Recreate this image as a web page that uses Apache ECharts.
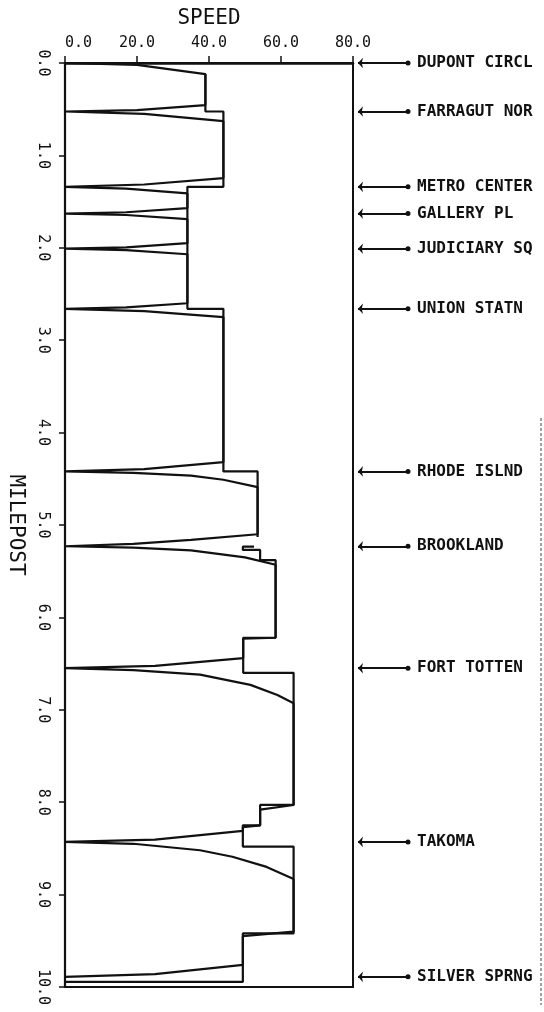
<!DOCTYPE html>
<html>
<head>
<meta charset="utf-8">
<script src="https://cdn.jsdelivr.net/npm/echarts@6/dist/echarts.min.js"></script>
<style>
  html, body { margin: 0; padding: 0; background: #ffffff; }
  #chart { width: 544px; height: 1012px; }
</style>
</head>
<body>
<div id="chart"></div>
<script>
// Speed axis (mph) and milepost axis ticks
const speedTicks = [0, 20, 40, 60, 80];
const milepostTicks = [0, 1, 2, 3, 4, 5, 6, 7, 8, 9, 10];

// Stations along the line and the milepost of each stop
const stationNames = ['DUPONT CIRCL', 'FARRAGUT NOR', 'METRO CENTER', 'GALLERY PL', 'JUDICIARY SQ',
  'UNION STATN', 'RHODE ISLND', 'BROOKLAND', 'FORT TOTTEN', 'TAKOMA', 'SILVER SPRNG'];
const stationMileposts = [0.00, 0.525, 1.34, 1.63, 2.01, 2.66, 4.42, 5.23, 6.55, 8.43, 9.89];

// Simulated run, one leg per station pair: [speed, milepost]
const legDupontFarragut = [[0, 0.00], [20, 0.02], [39, 0.12], [39, 0.455], [20, 0.51], [0, 0.525]];
const legFarragutMetro = [[0, 0.525], [22, 0.55], [44, 0.63], [44, 1.245], [22, 1.315], [0, 1.34]];
const legMetroGallery = [[0, 1.34], [17, 1.36], [34, 1.41], [34, 1.57], [17, 1.615], [0, 1.63]];
const legGalleryJudiciary = [[0, 1.63], [17, 1.645], [34, 1.69], [34, 1.95], [17, 1.995], [0, 2.01]];
const legJudiciaryUnion = [[0, 2.01], [17, 2.025], [34, 2.07], [34, 2.60], [17, 2.645], [0, 2.66]];
const legUnionRhode = [[0, 2.66], [22, 2.685], [44, 2.75], [44, 4.32], [22, 4.395], [0, 4.42]];
const legRhodeBrookland = [[0, 4.42], [19, 4.435], [35, 4.465], [44, 4.51], [53.5, 4.59], [53.5, 5.10],
  [35, 5.16], [19, 5.205], [0, 5.23]];
const legBrooklandTotten = [[0, 5.23], [19, 5.245], [35, 5.275], [50, 5.35], [58.5, 5.43], [58.5, 6.22],
  [49.5, 6.23], [49.5, 6.44], [25, 6.525], [0, 6.55]];
const legTottenTakoma = [[0, 6.55], [19, 6.57], [37.5, 6.62], [51.5, 6.73], [59, 6.84], [63.5, 6.93],
  [63.5, 8.03], [54.2, 8.08], [54.2, 8.25], [49.4, 8.27], [49.4, 8.31], [25, 8.405], [0, 8.43]];
const legTakomaSilver = [[0, 8.43], [19, 8.45], [37.5, 8.52], [46.5, 8.59], [56, 8.70], [63.5, 8.83],
  [63.5, 9.40], [49.4, 9.45], [49.4, 9.76], [25, 9.86], [0, 9.89]];

// Civil speed limit steps: [speed, milepost]
const limitNorth = [[39, 0.12], [39, 0.525], [44, 0.525], [44, 1.34], [34, 1.34], [34, 2.66], [44, 2.66],
  [44, 4.42], [53.5, 4.42], [53.5, 5.13]];
const limitSouth = [[52.5, 5.235], [49.4, 5.235], [49.4, 5.27], [54.2, 5.27], [54.2, 5.38], [58.5, 5.38],
  [58.5, 6.22], [49.5, 6.22], [49.5, 6.60], [63.5, 6.60], [63.5, 8.03], [54.2, 8.03], [54.2, 8.25],
  [49.4, 8.25], [49.4, 8.48], [63.5, 8.48], [63.5, 9.42], [49.4, 9.42], [49.4, 9.945], [0, 9.945]];

const runProfile = [].concat(legDupontFarragut, legFarragutMetro, legMetroGallery, legGalleryJudiciary,
  legJudiciaryUnion, legUnionRhode, legRhodeBrookland, legBrooklandTotten, legTottenTakoma, legTakomaSilver);

const INK = '#111111';
const MONO = '"DejaVu Sans Mono", "Liberation Mono", monospace';
const fmt1 = v => Number(v).toFixed(1);

const chart = echarts.init(document.getElementById('chart'), null, { renderer: 'canvas' });

const profileLine = (data) => ({
  type: 'line', xAxisIndex: 0, yAxisIndex: 0, data: data,
  showSymbol: false, symbol: 'none', clip: false, silent: true,
  lineStyle: { color: INK, width: 2.2 }
});

chart.setOption({
  animation: false,
  backgroundColor: '#ffffff',
  grid: [
    { left: 65, right: 191, top: 63, bottom: 25, containLabel: false, outerBoundsMode: 'none',
      show: true, borderColor: INK, borderWidth: 2, backgroundColor: 'transparent' },
    { left: 358, right: 136, top: 63, bottom: 25, containLabel: false, outerBoundsMode: 'none', show: false }
  ],
  xAxis: [
    {
      type: 'value', gridIndex: 0, position: 'top',
      min: speedTicks[0], max: speedTicks[speedTicks.length - 1], interval: speedTicks[1] - speedTicks[0],
      name: 'SPEED', nameLocation: 'middle', nameGap: 34,
      nameTextStyle: { fontFamily: MONO, fontSize: 21, color: INK },
      axisLine: { show: true, lineStyle: { color: INK, width: 2.5 } },
      axisTick: { show: true, inside: false, length: 7, lineStyle: { color: INK, width: 1.5 } },
      axisLabel: { formatter: fmt1, fontFamily: MONO, fontSize: 15, color: INK, margin: 12, alignMinLabel: 'left' },
      splitLine: { show: false }
    },
    { type: 'value', gridIndex: 1, min: 0, max: 1, show: false }
  ],
  yAxis: [
    {
      type: 'value', gridIndex: 0, inverse: true,
      min: milepostTicks[0], max: milepostTicks[milepostTicks.length - 1], interval: milepostTicks[1] - milepostTicks[0],
      name: 'MILEPOST', nameLocation: 'middle', nameGap: 39, nameRotate: -90,
      nameTextStyle: { fontFamily: MONO, fontSize: 21, color: INK },
      axisLine: { show: true, lineStyle: { color: INK, width: 2.2 } },
      axisTick: { show: true, inside: false, length: 6, lineStyle: { color: INK, width: 1.5 } },
      axisLabel: { formatter: fmt1, fontFamily: MONO, fontSize: 15, color: INK, margin: 15, rotate: -90 },
      splitLine: { show: false }
    },
    { type: 'value', gridIndex: 1, inverse: true, min: milepostTicks[0], max: milepostTicks[milepostTicks.length - 1], show: false }
  ],
  series: [
    profileLine(runProfile),
    profileLine(limitNorth),
    profileLine(limitSouth),
    {
      type: 'line', xAxisIndex: 1, yAxisIndex: 1, data: [], silent: true,
      markLine: {
        silent: true, animation: false,
        symbol: ['arrow', 'circle'], symbolSize: [8, 5],
        lineStyle: { color: INK, width: 2, type: 'solid' },
        label: { show: true, position: 'end', formatter: '{b}', distance: 9,
          fontFamily: MONO, fontSize: 16, fontWeight: 'bold', color: INK },
        emphasis: { disabled: true },
        data: stationNames.map((name, i) => [
          { name: name, coord: [0, stationMileposts[i]] },
          { coord: [1, stationMileposts[i]] }
        ])
      }
    }
  ],
  graphic: [
    { type: 'line', silent: true, shape: { x1: 541, y1: 418, x2: 541, y2: 1005 },
      style: { stroke: '#444444', lineWidth: 1, lineDash: [3, 2] } }
  ]
});
</script>
</body>
</html>
